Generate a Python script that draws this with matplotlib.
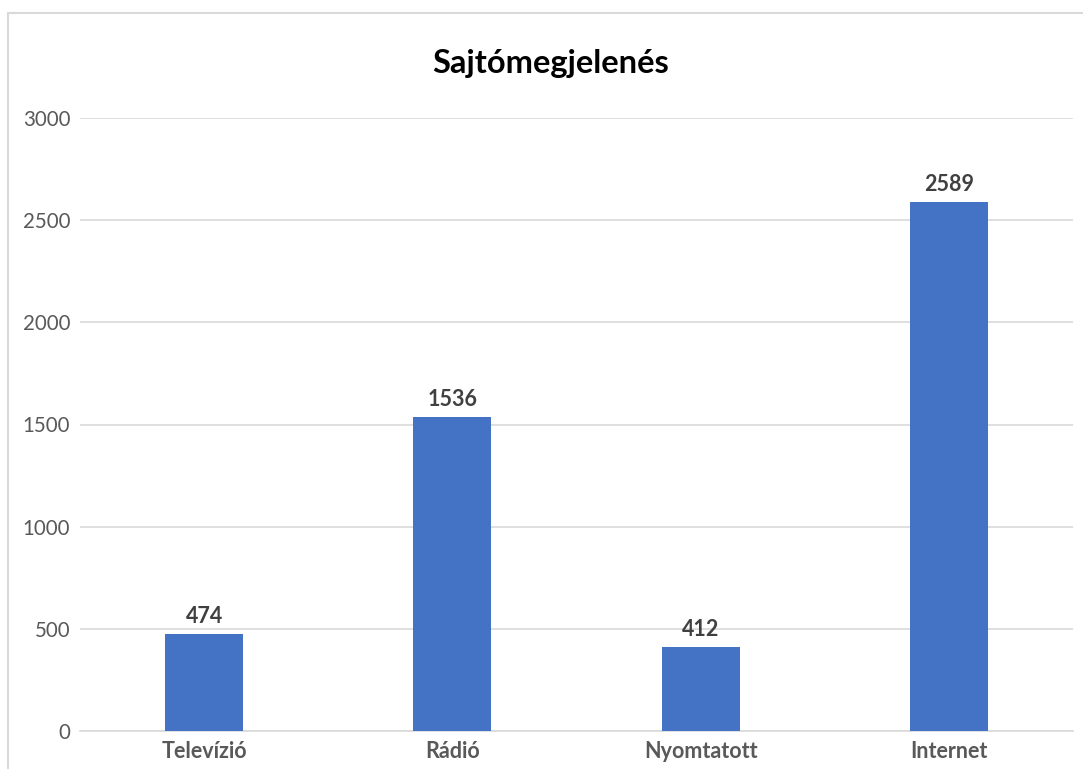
import matplotlib
matplotlib.use("Agg")
import matplotlib.pyplot as plt
from matplotlib.patches import Rectangle

categories = ["Televízió", "Rádió", "Nyomtatott", "Internet"]
values = [474, 1536, 412, 2589]
yticks = [0, 500, 1000, 1500, 2000, 2500, 3000]
title = "Sajtómegjelenés"

plt.rcParams['font.family'] = ['Lato', 'DejaVu Sans']

fig = plt.figure(figsize=(10.83, 7.69), dpi=100)
fig.patches.append(Rectangle((8/1083, -0.1), 2, (769-13)/769 + 0.1, transform=fig.transFigure,
                             fill=False, edgecolor='#d9d9d9', linewidth=1.5))
ax = fig.add_axes([80/1083, 1-731/769, (1073-80)/1083, (731-118)/769])

x = list(range(len(categories)))
bars = ax.bar(x, values, width=0.315, color='#4472c4', zorder=3)
ax.set_xlim(-0.5, len(categories) - 0.5)
ax.set_ylim(0, 3000)
ax.set_yticks(yticks)
ax.set_yticklabels([str(t) for t in yticks])
ax.set_xticks(x)
ax.set_xticklabels(categories, fontweight='bold')
ax.grid(axis='y', color='#d9d9d9', linewidth=1.2, zorder=0)
for s in ['top', 'right', 'left']:
    ax.spines[s].set_visible(False)
ax.spines['bottom'].set_color('#d9d9d9')
ax.spines['bottom'].set_linewidth(1.2)
ax.tick_params(axis='y', length=0, labelsize=14.8, labelcolor='#595959', pad=7)
ax.tick_params(axis='x', length=0, labelsize=15.5, labelcolor='#595959', pad=7)

for xi, v in zip(x, values):
    ax.annotate(str(v), (xi, v), xytext=(0, 5), textcoords='offset points',
                ha='center', va='bottom', fontsize=15.5, fontweight='bold', color='#404040')

fig.text(551/1083, 1-63/769, title, ha='center', va='center', fontsize=23.5,
         fontweight='bold', color='black')

fig.savefig("out.png", dpi=100, facecolor='white')
